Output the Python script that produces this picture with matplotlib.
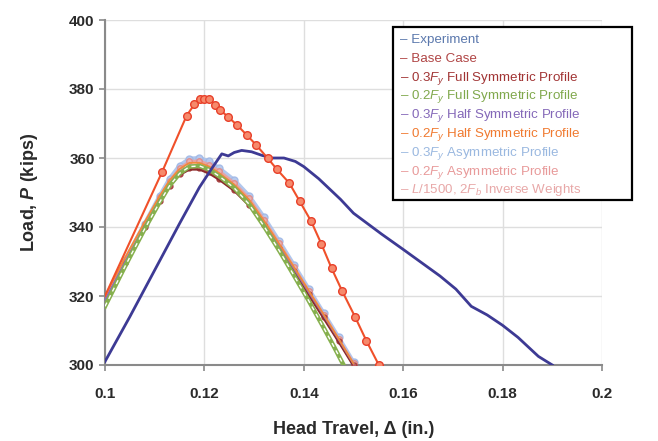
import matplotlib.pyplot as plt
from matplotlib.patches import Rectangle

plt.rcParams['font.family'] = ['Liberation Sans', 'DejaVu Sans']
plt.rcParams['mathtext.fontset'] = 'custom'
plt.rcParams['mathtext.rm'] = 'Liberation Sans'
plt.rcParams['mathtext.it'] = 'Liberation Sans:italic'
plt.rcParams['mathtext.bf'] = 'Liberation Sans:bold'
plt.rcParams['mathtext.bfit'] = 'Liberation Sans:italic:bold'

# experiment
exp_x = [0.100, 0.105, 0.110, 0.115, 0.119, 0.1215, 0.1235, 0.1248, 0.126, 0.1275, 0.1295,
         0.1315, 0.1335, 0.136, 0.1383, 0.140, 0.143, 0.1474, 0.150, 0.1556, 0.160, 0.1674,
         0.1706, 0.1737, 0.1769, 0.180, 0.1831, 0.1872, 0.190]
exp_y = [301.0, 314.0, 327.5, 341.0, 351.5, 357.0, 361.2, 360.6, 361.6, 362.2, 361.8,
         360.8, 360.0, 360.0, 359.0, 357.5, 354.0, 348.0, 344.0, 338.0, 333.5, 325.8,
         322.0, 317.0, 314.5, 311.5, 308.0, 302.5, 300.0]

# L/1500, 2Fb inverse weights
l1500_x = [0.100, 0.1115, 0.1164, 0.118, 0.1192, 0.120, 0.121, 0.1222, 0.1231, 0.1247, 0.1266,
           0.1285, 0.1304, 0.1327, 0.1346, 0.1371, 0.1392, 0.1415, 0.1435, 0.1456, 0.1477,
           0.1503, 0.1526, 0.1551]
l1500_y = [320.0, 356.0, 372.2, 375.6, 377.0, 377.2, 377.0, 375.5, 374.0, 372.0, 369.5,
           366.7, 363.8, 360.0, 356.7, 352.7, 347.4, 341.6, 335.2, 328.0, 321.5,
           314.0, 307.0, 300.0]

# analysis cluster
cl_x = [0.100, 0.104, 0.108, 0.111, 0.113, 0.115, 0.117, 0.119, 0.121, 0.123, 0.126,
        0.129, 0.132, 0.135, 0.138, 0.141, 0.144, 0.147, 0.150]
base_y = [318.5, 329.5, 340.0, 347.5, 352.0, 355.3, 357.0, 357.0, 355.8, 354.0, 350.8,
          346.5, 340.5, 334.0, 327.3, 320.5, 313.8, 307.0, 300.0]
full03_y = [318.3, 329.3, 339.8, 347.3, 351.8, 355.0, 356.6, 356.6, 355.4, 353.6, 350.4,
            346.1, 340.1, 333.6, 326.9, 320.1, 313.4, 306.6, 299.6]
half03_y = [318.8, 329.8, 340.4, 348.0, 352.6, 356.0, 357.8, 357.9, 356.8, 355.0, 351.8,
            347.4, 341.3, 334.8, 328.0, 321.1, 314.3, 307.4, 300.3]
half02_y = [320.0, 331.0, 341.5, 349.0, 353.5, 356.8, 358.6, 358.6, 357.5, 355.6, 352.3,
            347.9, 341.8, 335.2, 328.4, 321.5, 314.6, 307.6, 300.4]
asym03_y = [319.0, 330.3, 341.0, 349.0, 354.0, 357.8, 359.8, 360.0, 359.0, 357.0, 353.6,
            349.0, 342.8, 336.0, 329.0, 322.0, 315.0, 308.0, 300.8]
asym02_y = [318.8, 330.0, 340.8, 348.6, 353.4, 357.0, 359.0, 359.2, 358.0, 356.2, 352.8,
            348.3, 342.1, 335.4, 328.5, 321.5, 314.6, 307.6, 300.5]
full02_x = [0.100, 0.104, 0.108, 0.111, 0.113, 0.115, 0.117, 0.119, 0.121, 0.123, 0.126,
            0.129, 0.132, 0.135, 0.138, 0.141, 0.144, 0.146, 0.148]
full02_y = [317.0, 328.5, 339.5, 347.2, 352.0, 355.5, 357.5, 357.7, 356.6, 354.7, 351.3,
            346.6, 340.2, 333.3, 326.0, 318.6, 310.8, 305.5, 300.0]

legend_labels = ["Experiment", "Base Case",
                 "0.3$F_y$ Full Symmetric Profile", "0.2$F_y$ Full Symmetric Profile",
                 "0.3$F_y$ Half Symmetric Profile", "0.2$F_y$ Half Symmetric Profile",
                 "0.3$F_y$ Asymmetric Profile", "0.2$F_y$ Asymmetric Profile",
                 "$L$/1500, 2$F_b$ Inverse Weights"]
legend_colors = ["#5b78ad", "#b04545", "#a13434", "#80a84c", "#8468b8",
                 "#f07a30", "#9ab8e0", "#e89a9a", "#e8a8a8"]

W, H = 658, 441
fig = plt.figure(figsize=(W/100, H/100), dpi=100)
ax = fig.add_axes([105/W, 1-365/H, 497/W, 345/H])

ax.plot(cl_x, asym03_y, color="#a9c1eb", lw=3, marker='o', ms=5, mfc="#b7caee", mec="#a0b8e6", alpha=0.9, zorder=2)
ax.plot(cl_x, asym02_y, color="#e7a3a3", lw=2, marker='o', ms=4, mfc="#eab0b0", mec="#dd9090", zorder=3)
ax.plot(cl_x, base_y, color="#b24a4a", lw=1.5, marker='o', ms=3.5, mfc="#c06060", mec="#a84040", zorder=3)
ax.plot(cl_x, full03_y, color="#8c2b2b", lw=1.3, zorder=4)
ax.plot(cl_x, half03_y, color="#8a6cc0", lw=1.3, zorder=4)
ax.plot(cl_x, half02_y, color="#f08a3a", lw=1.3, zorder=4)
ax.plot(full02_x, full02_y, color="#86b04e", lw=3.2, zorder=5)
ax.plot(full02_x, full02_y, color="white", lw=1, ls=(0, (3, 3)), zorder=5)
ax.plot(exp_x, exp_y, color="#3d3a94", lw=2, zorder=6)
ax.plot(l1500_x, l1500_y, color="#f0502a", lw=1.5, marker='o', ms=5.5,
        mfc="#f68a6c", mec="#e8402a", markevery=list(range(1, len(l1500_x))), zorder=7)

ax.set_xlim(0.1, 0.2)
ax.set_ylim(300, 400)
ax.set_xticks([0.1, 0.12, 0.14, 0.16, 0.18, 0.2])
ax.set_xticklabels(["0.1", "0.12", "0.14", "0.16", "0.18", "0.2"])
ax.set_yticks([300, 320, 340, 360, 380, 400])
ax.grid(True, color="#dedede", lw=1)
ax.set_axisbelow(True)
for s in ["top", "right"]:
    ax.spines[s].set_visible(False)
for s in ["left", "bottom"]:
    ax.spines[s].set_color("#8a8a8a")
    ax.spines[s].set_linewidth(1.5)
ax.tick_params(colors="#8a8a8a", length=4, width=1.2, labelcolor="#2a2a2a", labelsize=11)
for lab in ax.get_xticklabels() + ax.get_yticklabels():
    lab.set_fontweight("bold")
ax.tick_params(axis='x', pad=12)

ax.set_xlabel("Head Travel, Δ (in.)", fontsize=13, fontweight="bold", color="#2a2a2a", labelpad=14)
ax.set_ylabel(r"Load, $\mathbfit{P}$ (kips)", fontsize=13, fontweight="bold", color="#2a2a2a", labelpad=21)

# legend box, partly outside the axes like the original
fig.patches.append(Rectangle((393/W, 1-200/H), 239/W, 173/H, transform=fig.transFigure,
                             facecolor="white", edgecolor="black", lw=1.6, zorder=5))
for i, (t, c) in enumerate(zip(legend_labels, legend_colors)):
    yc = 38.3 + i*18.8
    fig.text(400/W, 1-(yc+4.6)/H, "– " + t, color=c, fontsize=9.6, va="baseline", ha="left", zorder=6)

fig.savefig("out.png", dpi=100)
